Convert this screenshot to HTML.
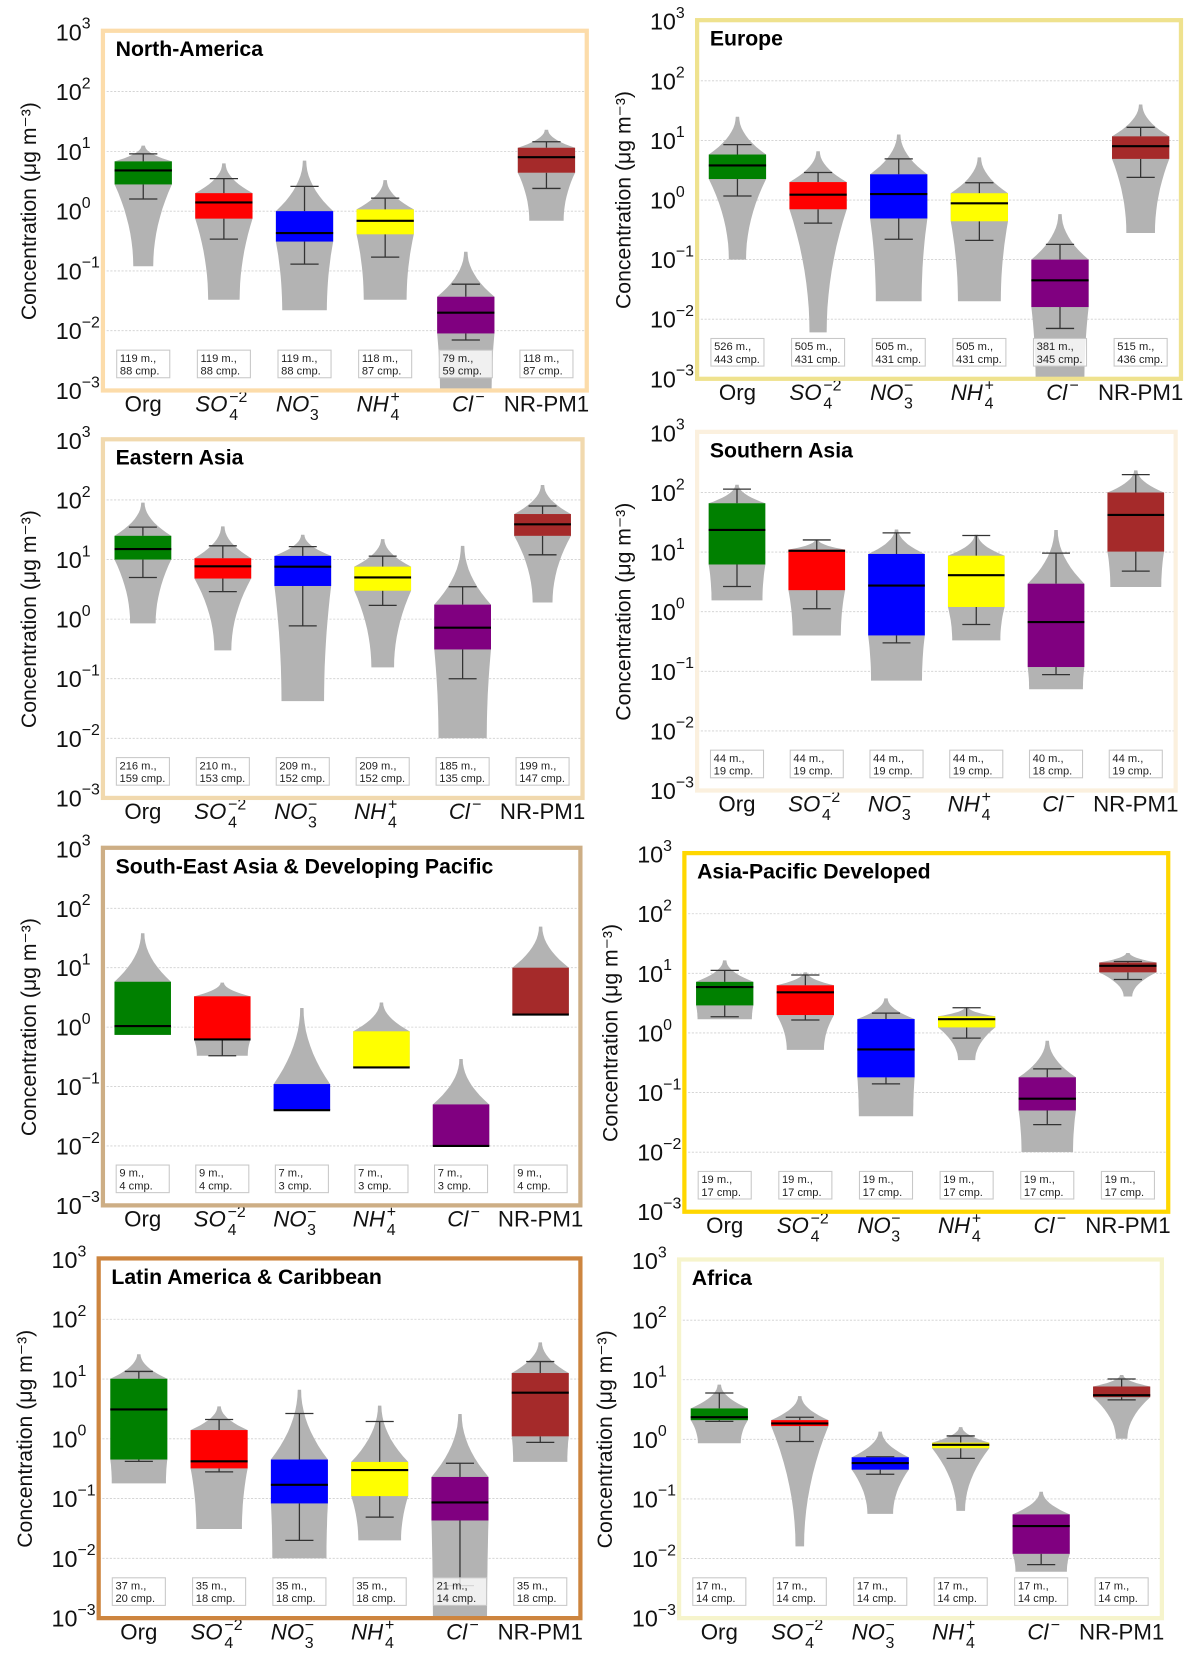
<!DOCTYPE html>
<html><head><meta charset="utf-8"><style>
html,body{margin:0;padding:0;background:#fff;}
svg{display:block;font-family:"Liberation Sans","DejaVu Sans",sans-serif;}
</style></head><body>
<svg id="fig" xmlns="http://www.w3.org/2000/svg" width="1199" height="1668" viewBox="0 0 1130 1572"></svg>
<script>
const categories = ['Org','SO4','NO3','NH4','Cl','NR-PM1'];
const regions = ['North-America','Europe','Eastern Asia','Southern Asia','South-East Asia & Developing Pacific','Asia-Pacific Developed','Latin America & Caribbean','Africa'];
const q1 = [
 [2.8,0.75,0.31,0.41,0.009,4.4],[2.25,0.7,0.49,0.44,0.016,4.9],[10,4.8,3.6,3,0.31,25],[6.2,2.3,0.4,1.2,0.118,10.2],
 [0.74,0.62,0.04,0.21,0.01,1.63],[2.9,2,0.18,1.24,0.05,10.4],[0.45,0.32,0.083,0.11,0.043,1.1],[2.1,1.67,0.31,0.71,0.012,5.1]];
const med = [
 [4.8,1.4,0.43,0.69,0.02,8],[3.8,1.23,1.26,0.88,0.045,8],[15,7.7,7.6,5,0.72,39],[23.6,10.5,2.75,4.1,0.67,42],
 [1.04,0.62,0.04,0.21,0.01,1.63],[5.9,4.8,0.53,1.7,0.079,13.4],[3.1,0.42,0.17,0.3,0.086,5.9],[2.35,1.85,0.4,0.81,0.035,5.5]];
const q3 = [
 [6.8,2.0,1.0,1.07,0.037,11.5],[5.8,2,2.7,1.3,0.1,11.7],[25,10.5,11.5,7.6,1.75,58],[66,11,9.3,8.7,2.95,100],
 [5.8,3.3,0.11,0.85,0.05,10],[7.2,6.3,1.71,1.9,0.18,15.2],[10.1,1.4,0.45,0.41,0.23,12.6],[3.3,2.1,0.5,0.88,0.055,7.7]];
const wlo = [
 [1.6,0.34,0.13,0.17,0.007,2.4],[1.17,0.41,0.22,0.21,0.007,2.4],[5,2.9,0.77,1.7,0.1,12],[2.65,1.12,0.3,0.61,0.088,4.8],
 [null,0.33,null,null,null,null],[1.87,1.65,0.14,0.82,0.029,7.9],[0.42,0.28,0.02,0.049,0.0035,0.87],[2.0,0.92,0.26,0.48,0.0079,4.6]];
const whi = [
 [9.1,3.5,2.6,1.65,0.06,14.5],[8.5,2.9,4.9,1.95,0.18,16.6],[35,17,16.5,11.4,3.5,79],[114,16,21,19,9.6,200],
 [null,null,null,null,null,null],[11.2,9.4,2.15,2.65,0.25,15.8],[13.4,2.1,2.65,1.95,0.39,19.6],[6,2.35,0.51,1.14,null,10.3]];
const vmin = [
 [0.12,0.033,0.022,0.033,0.0008,0.69],[0.1,0.006,0.02,0.02,0.0008,0.28],[0.85,0.3,0.042,0.155,0.01,1.9],[1.55,0.4,0.07,0.33,0.05,2.6],
 [0.74,0.33,0.04,0.21,0.01,1.63],[1.7,0.52,0.04,0.35,0.01,4.1],[0.18,0.031,0.01,0.02,0.0008,0.41],[0.86,0.016,0.056,0.063,0.006,1.02]];
const vmax = [
 [12.5,6.3,7,3.3,0.21,23],[25,6.6,12.6,5.2,0.58,40],[90,36,26,22,17,178],[135,16,24,19.5,23.5,235],
 [38,5.6,2.1,2.6,0.29,49],[16.5,10.4,3.8,2.7,0.74,22],[26,3.5,6.6,3.6,2.6,41],[8.3,5.3,1.35,1.6,0.132,12]];
const botW = [
 [.35,.55,.78,.75,.9,.6],[.3,.3,.8,.75,.85,.5],[.45,.3,.75,.4,.85,.35],[.9,.85,.9,.85,.95,.9],
 [1,.9,1,1,1,1],[.95,.65,.95,.3,.9,.15],[.95,.8,.95,.75,.95,.95],[.75,.15,.45,.15,.9,.2]];
const nMeas = [
 [119,119,119,118,79,118],[526,505,505,505,381,515],[216,210,209,209,185,199],[44,44,44,44,40,44],
 [9,9,7,7,7,9],[19,19,19,19,19,19],[37,35,35,35,21,35],[17,17,17,17,17,17]];
const nCamp = [
 [88,88,88,87,59,87],[443,431,431,431,345,436],[159,153,152,152,135,147],[19,19,19,19,18,19],
 [4,4,3,3,3,4],[17,17,17,17,17,17],[20,18,18,18,14,18],[14,14,14,14,14,14]];
const yTicks = [3,2,1,0,-1,-2,-3];

const layout = [
 {l:97,r:553,t:30,b:368,c:'#fcdcaa'},{l:657,r:1113,t:20,b:357,c:'#efe28e'},
 {l:97,r:549,t:415,b:752,c:'#f1d9ae'},{l:657,r:1108,t:408,b:745,c:'#fbf0de'},
 {l:97,r:547,t:800,b:1136,c:'#cdae85'},{l:645,r:1101,t:805,b:1142,c:'#ffd700'},
 {l:93,r:547,t:1187,b:1525,c:'#cd853f'},{l:640,r:1095,t:1188,b:1525,c:'#f6f4cc'}];
const fills = ['#008000','#ff0000','#0000ff','#ffff00','#800080','#a52a2a'];
const NS='http://www.w3.org/2000/svg';
const svg=document.getElementById('fig');
function mk(tag,attrs,parent,text){const e=document.createElementNS(NS,tag);for(const k in attrs)e.setAttribute(k,attrs[k]);if(text!==undefined)e.textContent=text;(parent||svg).appendChild(e);return e;}

regions.forEach((name,p)=>{
  const L=layout[p];
  const g=mk('g',{});
  
  
  const yS=v=>L.t+(3-Math.log10(v))*(L.b-L.t)/6;
  const sp=(L.r-L.l)/6;
  const xS=i=>L.l+(i+0.5)*sp;
  const bw=sp*0.71, cw=sp*0.35;
  const clipId='clip'+p;
  const cp=mk('clipPath',{id:clipId},g);mk('rect',{x:L.l,y:L.t,width:L.r-L.l,height:L.b-L.t},cp);
  yTicks.forEach(k=>{
    if(k<3&&k>-3){const gl=mk('line',{x1:L.l,x2:L.r,y1:yS(Math.pow(10,k)),y2:yS(Math.pow(10,k)),stroke:'#cfcfcf','stroke-width':0.8,'stroke-dasharray':'2,1.5'},g);
      }
    const tl=mk('text',{x:L.l-20,y:yS(Math.pow(10,k))+8,'font-size':22,'text-anchor':'end',fill:'#111'},g,'10');
    
    mk('text',{x:L.l-20,y:yS(Math.pow(10,k))-3,'font-size':15,fill:'#111'},g,k<0?'\u2212'+(-k):String(k));
  });
  const yt=mk('text',{x:0,y:0,'font-size':20,'text-anchor':'middle',fill:'#111',transform:`translate(${L.l-63},${(L.t+L.b)/2}) rotate(-90)`},g,'Concentration (\u03bcg m\u207b\u00b3)');
  
  const plot=mk('g',{'clip-path':`url(#${clipId})`},g);
  categories.forEach((c,i)=>{
    const cx=xS(i);
    const pts=[];const half=bw/2;
    const lg=Math.log10, top=lg(vmax[p][i]), a=lg(q3[p][i]), b=lg(q1[p][i]), bot=lg(vmin[p][i]);
    const prof=[];
    if(top>a){for(let s=0;s<=10;s++){const t=s/10;prof.push([top+(a-top)*t,0.06+0.94*t*t]);}} else prof.push([top,1]);
    if(a>b) prof.push([b,1]);
    if(bot<b){for(let s=1;s<=10;s++){const t=s/10;prof.push([b+(bot-b)*t,botW[p][i]+(1-botW[p][i])*(1-t)*(1-t)]);}}
    prof.forEach(q=>pts.push([cx+half*q[1],yS(Math.pow(10,q[0]))]));
    for(let k=prof.length-1;k>=0;k--)pts.push([cx-half*prof[k][1],yS(Math.pow(10,prof[k][0]))]);
    const vi=mk('polygon',{points:pts.map(q=>q[0].toFixed(1)+','+q[1].toFixed(1)).join(' '),fill:'#b3b3b3'},plot);
    
    const lo=wlo[p][i], hi=whi[p][i];
    if(hi!==null){mk('line',{x1:cx,x2:cx,y1:yS(q3[p][i]),y2:yS(hi),stroke:'#333','stroke-width':1.2},plot);
      const wc=mk('line',{x1:cx-cw/2,x2:cx+cw/2,y1:yS(hi),y2:yS(hi),stroke:'#333','stroke-width':1.2},plot);
      }
    if(lo!==null){mk('line',{x1:cx,x2:cx,y1:yS(q1[p][i]),y2:yS(lo),stroke:'#333','stroke-width':1.2},plot);
      const wc=mk('line',{x1:cx-cw/2,x2:cx+cw/2,y1:yS(lo),y2:yS(lo),stroke:'#333','stroke-width':1.2},plot);
      }
    const bx=mk('rect',{x:cx-bw/2,y:yS(q3[p][i]),width:bw,height:Math.max(1,yS(q1[p][i])-yS(q3[p][i])),fill:fills[i]},plot);
    
    const md=mk('line',{x1:cx-bw/2,x2:cx+bw/2,y1:yS(med[p][i]),y2:yS(med[p][i]),stroke:'#000','stroke-width':2},plot);
    
    const ag=mk('g',{},g);
    
    mk('rect',{x:cx-25,y:L.b-38,width:50,height:26,fill:'#fff','fill-opacity':0.8,stroke:'#c8c8c8','stroke-width':1},ag);
    mk('text',{x:cx-22,y:L.b-27,'font-size':10.5,fill:'#222'},ag,nMeas[p][i]+' m.,');
    mk('text',{x:cx-22,y:L.b-15,'font-size':10.5,fill:'#222'},ag,nCamp[p][i]+' cmp.');
    const ly=L.b+20;
    const xl=mk('g',{},g);
    
    const it={'font-size':21,'font-style':'italic',fill:'#111'};
    if(c==='Org'||c==='NR-PM1'){mk('text',{x:cx,y:ly,'font-size':21,'text-anchor':'middle',fill:'#111'},xl,c);}
    else if(c==='Cl'){mk('text',Object.assign({x:cx-13,y:ly},it),xl,'Cl');mk('text',{x:cx+9,y:ly-9,'font-size':15,fill:'#111'},xl,'\u2212');}
    else{const m={SO4:['SO','4','\u22122'],NO3:['NO','3','\u2212'],NH4:['NH','4','+']}[c];
      mk('text',Object.assign({x:cx-27,y:ly},it),xl,m[0]);
      mk('text',{x:cx+5,y:ly-9,'font-size':15,fill:'#111'},xl,m[2]);
      mk('text',{x:cx+5,y:ly+8,'font-size':15,fill:'#111'},xl,m[1]);}
  });
  const fr=mk('rect',{x:L.l,y:L.t-1,width:L.r-L.l,height:L.b-L.t+1,fill:'none',stroke:L.c,'stroke-width':4},g);
  
  const tt=mk('text',{x:L.l+12,y:L.t+23,'font-size':20,'font-weight':'bold',fill:'#000'},g,name);
  
});
</script>
</body></html>
